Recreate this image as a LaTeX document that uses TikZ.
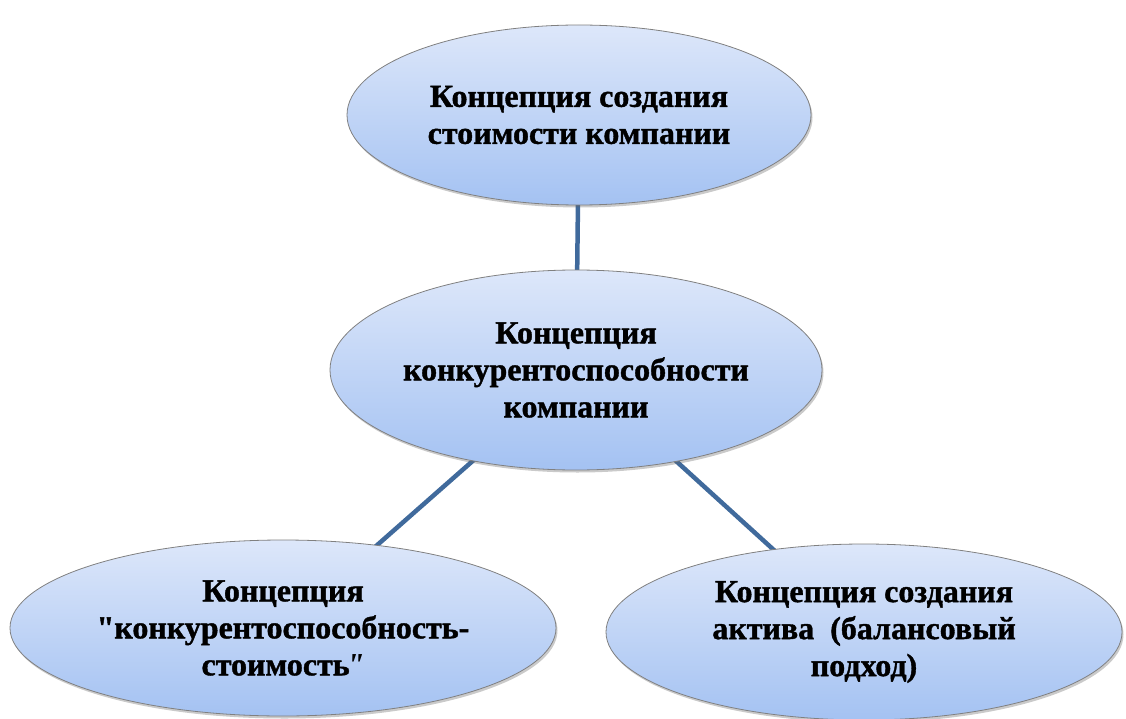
\documentclass[tikz,border=0pt]{standalone}
\usepackage{fontspec}
\setmainfont[Ligatures=TeXOff, BoldFeatures={FakeBold=1.2}]{Liberation Serif}
\usetikzlibrary{shapes.geometric,shadows,backgrounds}
\definecolor{topc}{RGB}{221,231,250}
\definecolor{botc}{RGB}{164,194,242}
\definecolor{rimc}{RGB}{128,128,128}
\definecolor{linkc}{RGB}{64,106,156}
\tikzset{
  concept/.style={ellipse, draw=rimc, line width=0.8pt, top color=topc, bottom color=botc,
    inner sep=0pt, align=center, font=\fontsize{32}{37}\selectfont\bfseries,
    drop shadow={shadow xshift=1.5pt, shadow yshift=-2.5pt, opacity=0.35, fill=black!60}},
  link/.style={draw=linkc, line width=4.5pt}
}
\begin{document}
\begin{tikzpicture}[x=1pt,y=-1pt]
\useasboundingbox (0,0) rectangle (1126,719);
\node[concept, minimum width=464pt, minimum height=180pt] (top) at (579,115)
  {Концепция создания\\стоимости компании};
\node[concept, minimum width=492pt, minimum height=200pt] (mid) at (576,370)
  {Концепция\\конкурентоспособности\\компании};
\node[concept, minimum width=546pt, minimum height=176pt] (bl) at (283,628)
  {Концепция\\"конкурентоспособность-\\стоимость\kern-3pt{\itshape "}};
\node[concept, minimum width=516pt, minimum height=176pt] (br) at (864,632)
  {Концепция создания\\актива\ \ (балансовый\\подход)};
\begin{scope}[on background layer]
\draw[link] (top.center) -- (mid.center);
\draw[link] (mid.center) -- (bl.center);
\draw[link] (mid.center) -- (br.center);
\end{scope}
\end{tikzpicture}
\end{document}
